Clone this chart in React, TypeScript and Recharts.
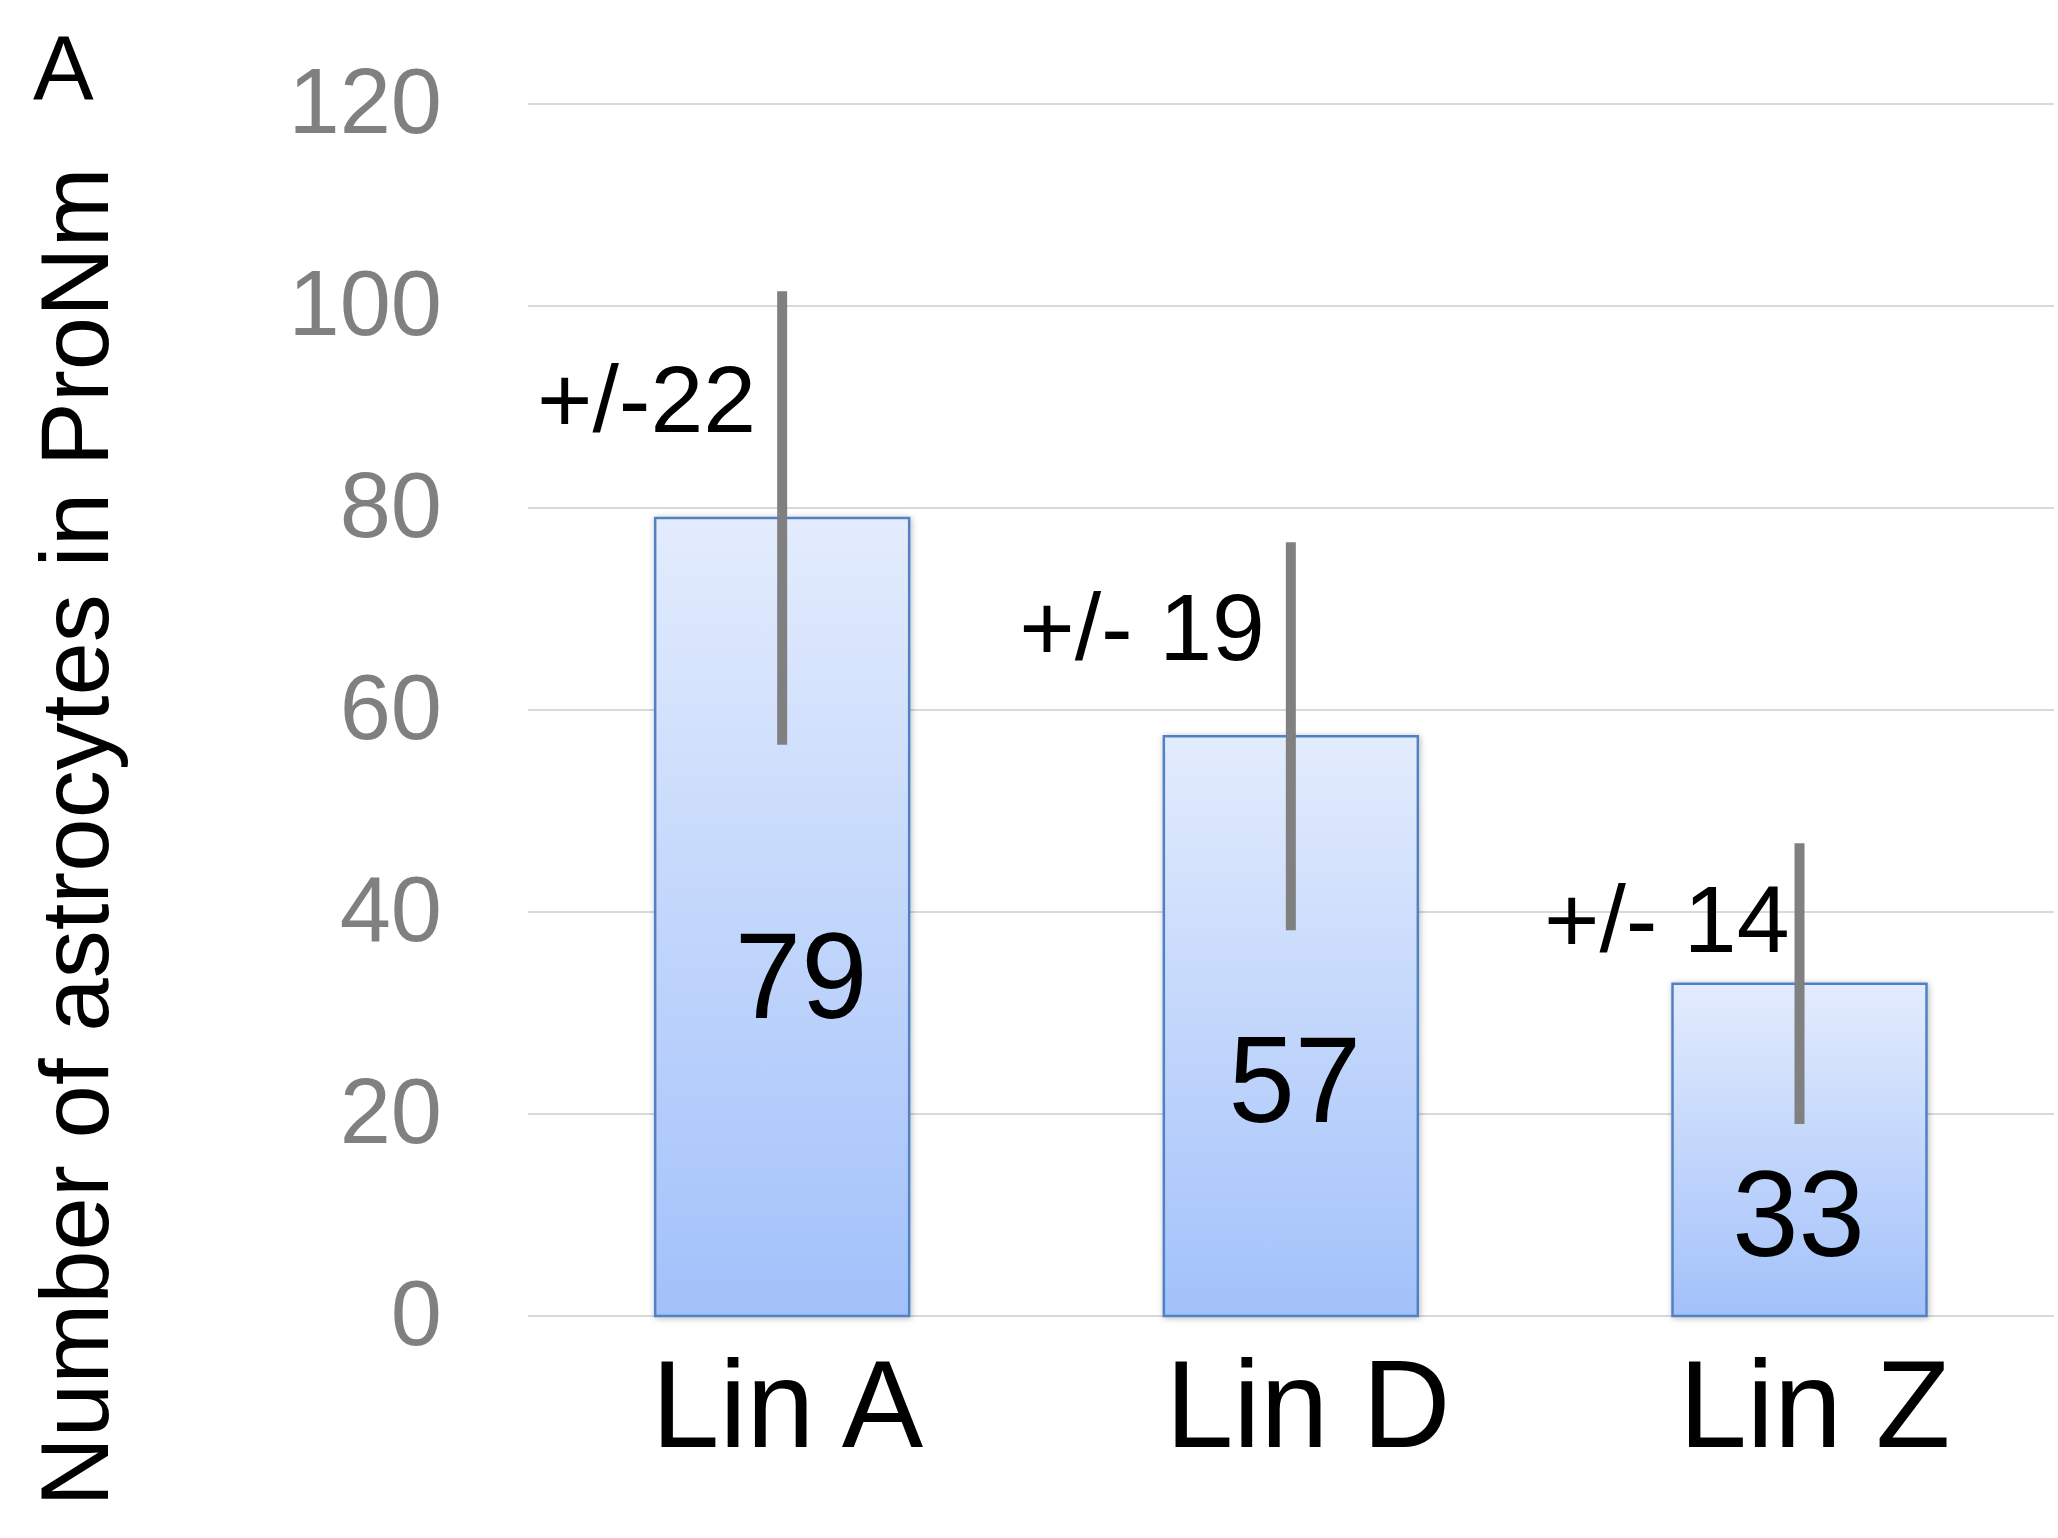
import React from 'react';
import { BarChart, Bar, XAxis, YAxis, CartesianGrid, ErrorBar, LabelList } from 'recharts';

const categories = ['Lin A', 'Lin D', 'Lin Z'];
const means = [79, 57.4, 32.9];
const errs = [22.45, 19.2, 13.9];
const errorNotes = ['+/-22', '+/- 19', '+/- 14'];
// annotation anchors, in data units
const valueLabelAt = [29.5, 19.2, 5.9];
const noteAt = [87.5, 65, 36];
const yTicks = [0, 20, 40, 60, 80, 100, 120];

const data = categories.map((c, i) => ({ name: c, value: means[i], err: errs[i], note: errorNotes[i] }));

const FONT = '"Liberation Sans", Arial, Helvetica, sans-serif';

// small per-label horizontal nudges (px), as placed in the original figure
const valueDx = [19, 4, -1];
const noteDx = [-26, -26, -10];
const catDx = [5, 17, 15];

const geom = (props: any) => {
  const vb = props.viewBox && props.viewBox.width !== undefined ? props.viewBox : props;
  return { x: Number(vb.x), y: Number(vb.y), width: Number(vb.width), height: Number(vb.height) };
};

const ValueLabel = (props: any) => {
  const { x, y, width, height } = geom(props);
  const idx = props.index ?? 0;
  const v = means[idx];
  const per = height / v;
  const bottom = y + height;
  const ly = bottom - valueLabelAt[idx] * per;
  const cx = x + width / 2 + valueDx[idx];
  return (
    <text
      transform={`translate(${cx} ${ly}) scale(0.97 1)`}
      x={0}
      y={0}
      textAnchor="middle"
      fontFamily={FONT}
      fontSize={123}
      fill="#000"
    >
      {Math.round(v)}
    </text>
  );
};

const NoteLabel = (props: any) => {
  const { x, y, width, height } = geom(props);
  const idx = props.index ?? 0;
  const v = means[idx];
  const per = height / v;
  const bottom = y + height;
  const ly = bottom - noteAt[idx] * per;
  return (
    <text x={x + width / 2 + noteDx[idx]} y={ly} textAnchor="end" fontFamily={FONT} fontSize={95} fill="#000">
      {errorNotes[idx]}
    </text>
  );
};

const XTick = (props: any) => {
  const { x, y, payload, index } = props;
  const i = categories.indexOf(payload.value);
  const cx = x + catDx[i >= 0 ? i : index ?? 0];
  return (
    <text
      transform={`translate(${cx} ${y + 131}) scale(0.985 1)`}
      x={0}
      y={0}
      textAnchor="middle"
      fontFamily={FONT}
      fontSize={124}
      fill="#000"
    >
      {payload.value}
    </text>
  );
};

const YTick = (props: any) => {
  const { x, y, payload } = props;
  return (
    <text x={x} y={y} dy={29} textAnchor="end" fontFamily={FONT} fontSize={92} fill="#808080">
      {payload.value}
    </text>
  );
};

export default function App() {
  return (
    <div style={{ position: 'absolute', left: 0, top: 0, width: 2058, height: 1538, background: '#fff' }}>
      <BarChart
        width={2058}
        height={1538}
        data={data}
        margin={{ top: 104, right: 4, bottom: 0, left: 0 }}
        barCategoryGap="25%"
      >
        <defs>
          <linearGradient id="barGrad" x1="0" y1="0" x2="0" y2="1">
            <stop offset="0%" stopColor="#e3ecfd" />
            <stop offset="100%" stopColor="#a2c1fa" />
          </linearGradient>
          <filter id="shadow" x="-10%" y="-10%" width="130%" height="130%">
            <feDropShadow dx="1" dy="1" stdDeviation="3" floodColor="#000" floodOpacity="0.28" />
          </filter>
        </defs>
        <CartesianGrid vertical={false} stroke="#d9d9d9" strokeWidth={2} />
        <XAxis
          dataKey="name"
          axisLine={false}
          tickLine={false}
          tickSize={0}
          tickMargin={0}
          height={222}
          tick={<XTick />}
          interval={0}
        />
        <YAxis
          domain={[0, 120]}
          ticks={yTicks}
          axisLine={false}
          tickLine={false}
          tickSize={0}
          tickMargin={86}
          width={528}
          tick={<YTick />}
          interval={0}
          label={{
            content: () => (
              <g>
                <text
                  x={108}
                  y={837}
                  transform="rotate(-90 108 837)"
                  textAnchor="middle"
                  fontFamily={FONT}
                  fontSize={96}
                  fill="#000"
                >
                  Number of astrocytes in ProNm
                </text>
                <text x={33} y={99} fontFamily={FONT} fontSize={91} fill="#000">
                  A
                </text>
              </g>
            ),
          }}
        />
        <Bar
          dataKey="value"
          fill="url(#barGrad)"
          stroke="#5081c4"
          strokeWidth={2.5}
          isAnimationActive={false}
          style={{ filter: 'url(#shadow)' }}
        >
          <ErrorBar dataKey="err" width={0} stroke="#808080" strokeWidth={10} isAnimationActive={false} />
          <LabelList dataKey="value" content={<ValueLabel />} />
          <LabelList dataKey="note" content={<NoteLabel />} />
        </Bar>
      </BarChart>
    </div>
  );
}
